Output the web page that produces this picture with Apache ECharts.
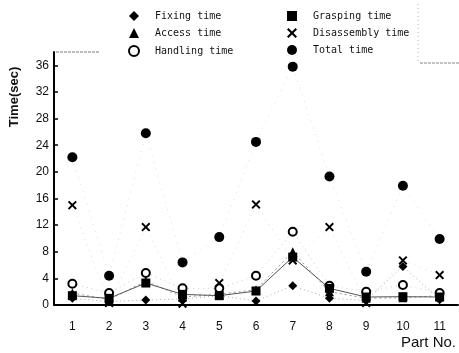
<!DOCTYPE html>
<html>
<head>
<meta charset="utf-8">
<script src="https://cdn.jsdelivr.net/npm/echarts@6/dist/echarts.min.js"></script>
<style>
  html, body { margin: 0; padding: 0; background: #fff; }
  #chart { width: 459px; height: 353px; }
</style>
</head>
<body>
<div id="chart"></div>
<script>
const parts = ['1', '2', '3', '4', '5', '6', '7', '8', '9', '10', '11']
const fixingTime = [1.0, 0.5, 0.75, 0.9, 1.4, 0.6, 2.9, 1.0, 0.7, 5.8, 0.8]
const graspingTime = [1.4, 1.0, 3.3, 1.6, 1.4, 2.1, 7.2, 2.5, 1.2, 1.25, 1.2]
const accessTime = [1.8, 0.8, 3.6, 1.2, 1.6, 2.3, 8.0, 2.0, 1.0, 1.1, 1.4]
const handlingTime = [3.2, 1.8, 4.8, 2.5, 2.5, 4.4, 11.0, 2.9, 2.0, 3.0, 1.8]
const disassemblyTime = [15.0, 0.3, 11.7, 0.2, 3.3, 15.1, 6.7, 11.7, 0.3, 6.7, 4.5]
const totalTime = [22.2, 4.4, 25.8, 6.4, 10.2, 24.5, 35.8, 19.3, 5.0, 17.9, 9.9]
const yTicks = [0, 4, 8, 12, 16, 20, 24, 28, 32, 36]

const crossPath = 'path://M0,1.5L1.5,0L5,3.5L8.5,0L10,1.5L6.5,5L10,8.5L8.5,10L5,6.5L1.5,10L0,8.5L3.5,5Z'

const chart = echarts.init(document.getElementById('chart'))

const mkSeries = (name, data, symbol, size, line, extra) => Object.assign({
  name,
  type: 'line',
  data,
  symbol,
  symbolSize: size,
  itemStyle: { color: '#000' },
  lineStyle: line,
  animation: false,
}, extra || {})

const legendText = {
  fontFamily: 'DejaVu Sans Mono',
  fontSize: 10,
  color: '#111',
  padding: [0, 0, 0, 11],
}

const option = {
  backgroundColor: '#fff',
  animation: false,
  grid: { left: 54, right: 1, top: 52, bottom: 48 },
  legend: [
    {
      orient: 'vertical',
      left: 123,
      top: 6,
      itemWidth: 10,
      itemHeight: 10,
      itemGap: 7,
      textStyle: legendText,
      data: [
        { name: 'Fixing time', icon: 'diamond' },
        { name: 'Access time', icon: 'triangle' },
        { name: 'Handling time', icon: 'emptyCircle', itemStyle: { borderWidth: 2.5, borderColor: '#000', color: '#000' } },
      ],
    },
    {
      orient: 'vertical',
      left: 282,
      top: 6,
      itemWidth: 10,
      itemHeight: 10,
      itemGap: 7,
      textStyle: legendText,
      data: [
        { name: 'Grasping time', icon: 'rect' },
        { name: 'Disassembly time', icon: crossPath },
        { name: 'Total time', icon: 'circle' },
      ],
    },
  ],
  xAxis: {
    type: 'category',
    data: parts,
    boundaryGap: true,
    axisLine: { lineStyle: { color: '#000', width: 2 } },
    axisTick: { inside: true, length: 5, lineStyle: { color: '#000', width: 1.5 } },
    axisLabel: { color: '#111', fontFamily: 'Liberation Sans', fontSize: 12, margin: 16 },
  },
  yAxis: {
    type: 'value',
    min: 0,
    max: 38,
    interval: 4,
    splitLine: { show: false },
    axisLine: { show: true, lineStyle: { color: '#000', width: 2 } },
    axisTick: { show: true, inside: true, length: 4, lineStyle: { color: '#000', width: 1.5 } },
    axisLabel: {
      showMaxLabel: false,
      color: '#111',
      fontFamily: 'Liberation Sans',
      fontSize: 12,
      margin: 5,
      formatter: (v) => (yTicks.includes(v) ? String(v) : ''),
    },
  },
  graphic: [
    {
      type: 'text',
      x: 14,
      y: 97,
      rotation: Math.PI / 2,
      style: {
        text: 'Time(sec)',
        fontFamily: 'Liberation Sans',
        fontSize: 13,
        fontWeight: 'bold',
        fill: '#111',
        textAlign: 'center',
        textVerticalAlign: 'middle',
      },
    },
    {
      type: 'text',
      right: 3,
      top: 335,
      style: { text: 'Part No.', fontFamily: 'Liberation Sans', fontSize: 15, fill: '#111' },
    },
    {
      type: 'line',
      shape: { x1: 56, y1: 52, x2: 100, y2: 52 },
      style: { stroke: '#777', lineWidth: 1, lineDash: [3, 1] },
    },
    {
      type: 'line',
      shape: { x1: 418, y1: 4, x2: 418, y2: 64 },
      style: { stroke: '#bbb', lineWidth: 1, lineDash: [1, 3] },
    },
    {
      type: 'line',
      shape: { x1: 420, y1: 63, x2: 459, y2: 63 },
      style: { stroke: '#888', lineWidth: 1, lineDash: [3, 1] },
    },
  ],
  series: [
    mkSeries('Fixing time', fixingTime, 'diamond', 9, { color: '#aaa', width: 1, type: [1, 3] }),
    mkSeries('Access time', accessTime, 'triangle', 9, { color: '#999', width: 1, type: [2, 3] }),
    mkSeries('Handling time', handlingTime, 'emptyCircle', 8, { color: '#ccc', width: 1, type: [1, 4] },
      { itemStyle: { color: '#000', borderColor: '#000', borderWidth: 2.5 } }),
    mkSeries('Grasping time', graspingTime, 'rect', 9, { color: '#555', width: 1, type: 'solid' }),
    mkSeries('Disassembly time', disassemblyTime, crossPath, 9, { color: '#ddd', width: 1, type: [1, 5] }),
    mkSeries('Total time', totalTime, 'circle', 10, { color: '#ddd', width: 1, type: [1, 6] }),
  ],
}

chart.setOption(option)
</script>
</body>
</html>
